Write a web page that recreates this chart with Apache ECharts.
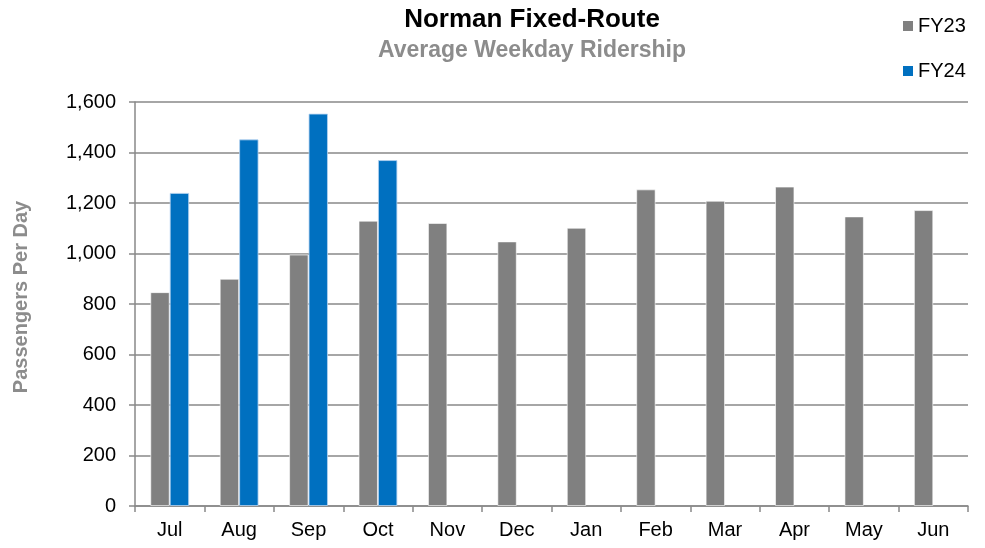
<!DOCTYPE html>
<html>
<head>
<meta charset="utf-8">
<script src="https://cdn.jsdelivr.net/npm/echarts@6/dist/echarts.min.js"></script>
<style>
  html, body { margin: 0; padding: 0; background: #fff; }
  #chart { width: 985px; height: 548px; }
</style>
</head>
<body>
<div id="chart"></div>
<script>
var months = ['Jul', 'Aug', 'Sep', 'Oct', 'Nov', 'Dec', 'Jan', 'Feb', 'Mar', 'Apr', 'May', 'Jun'];
var fy23 = [847, 900, 996, 1130, 1121, 1048, 1102, 1254, 1209, 1265, 1147, 1172];
var fy24 = [1240, 1452, 1554, 1370, null, null, null, null, null, null, null, null];

var font = 'Liberation Sans, Arial, sans-serif';
var chart = echarts.init(document.getElementById('chart'));

var option = {
    animation: false,
    textStyle: { fontFamily: font },
    title: [{
        text: 'Norman Fixed-Route',
        left: 527, top: 2, textAlign: 'center',
        textStyle: { fontSize: 26, fontWeight: 'bold', color: '#000', fontFamily: font }
    }, {
        text: 'Average Weekday Ridership',
        left: 527, top: 34, textAlign: 'center',
        textStyle: { fontSize: 23, fontWeight: 'bold', color: '#8c8c8c', fontFamily: font }
    }],
    legend: {
        data: ['FY23', 'FY24'],
        orient: 'vertical',
        left: 903, top: 16,
        padding: 0,
        itemGap: 25,
        itemWidth: 10, itemHeight: 10,
        icon: 'rect',
        itemStyle: { borderWidth: 0 },
        textStyle: { fontSize: 20, color: '#000', fontFamily: font }
    },
    grid: { left: 135, right: 17, top: 102, bottom: 42 },
    xAxis: {
        type: 'category',
        data: months,
        axisLine: { lineStyle: { color: '#898989', width: 1.5 } },
        axisTick: { show: true, length: 6, lineStyle: { color: '#898989', width: 1.5 } },
        axisLabel: { fontSize: 20, color: '#000', margin: 14, fontFamily: font }
    },
    yAxis: {
        type: 'value',
        min: 0, max: 1600, interval: 200,
        name: 'Passengers Per Day',
        nameLocation: 'middle',
        nameGap: 104,
        nameTextStyle: { fontSize: 20, fontWeight: 'bold', color: '#8c8c8c', fontFamily: font, padding: [0, 0, 0, 14] },
        axisLine: { show: true, lineStyle: { color: '#898989', width: 1.5 } },
        axisTick: { show: true, length: 6, lineStyle: { color: '#898989', width: 1.5 } },
        axisLabel: {
            fontSize: 20, color: '#000', margin: 19, fontFamily: font,
            formatter: function (v) { return v.toLocaleString('en-US'); }
        },
        splitLine: { lineStyle: { color: '#898989', width: 1.5 } }
    },
    series: [{
        name: 'FY23',
        type: 'bar',
        data: fy23,
        barGap: '0%',
        barCategoryGap: '44%',
        itemStyle: { color: '#808080', borderColor: 'rgba(255,255,255,0.6)', borderWidth: 1 }
    }, {
        name: 'FY24',
        type: 'bar',
        data: fy24,
        itemStyle: { color: '#0070c0', borderColor: 'rgba(180,210,240,0.8)', borderWidth: 1 }
    }]
};
chart.setOption(option);
</script>
</body>
</html>
